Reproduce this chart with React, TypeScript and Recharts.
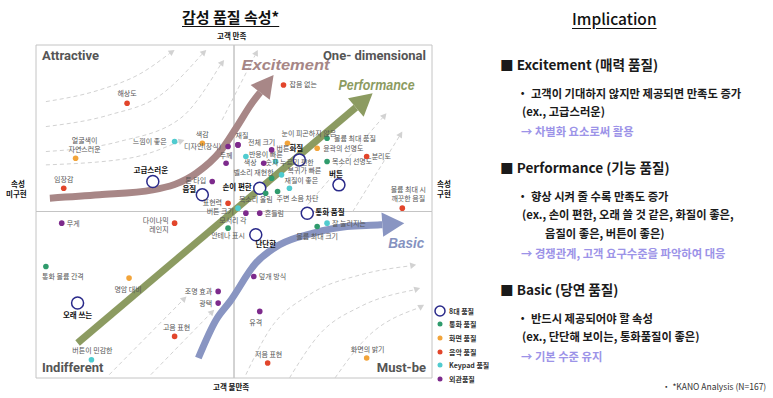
import { ScatterChart, Scatter, XAxis, YAxis, ReferenceArea, Legend, Curve } from "recharts";

// KANO map: x = 속성 구현 정도, y = 고객 만족 정도 (both -1..1)
const keyPoints = [
    { name: "고급스러운", x: -0.41, y: 0.18 },
    { name: "음질", x: -0.16, y: 0.10 },
    { name: "손이 편한", x: 0.13, y: 0.14 },
    { name: "화질", x: 0.33, y: 0.31 },
    { name: "버튼", x: 0.53, y: 0.16 },
    { name: "통화 품질", x: 0.37, y: -0.01 },
    { name: "단단한", x: 0.11, y: -0.14 },
    { name: "오래 쓰는", x: -0.79, y: -0.55 },
];
const callPoints = [
    { name: "볼륨 최대 품질", x: 0.47, y: 0.44 },
    { name: "목소리 선명도", x: 0.47, y: 0.30 },
    { name: "벨소리 재현한", x: 0.19, y: 0.20 },
    { name: "목소리 울림", x: 0.16, y: 0.11 },
    { name: "주변 소음 차단", x: 0.22, y: 0.12 },
    { name: "안테나 표시", x: -0.03, y: -0.10 },
    { name: "볼륨 최대 크기", x: 0.42, y: -0.09 },
    { name: "통화 볼륨 간격", x: -0.95, y: -0.33 },
];
const screenPoints = [
    { name: "얼굴색이\n자연스러운", x: -0.80, y: 0.32 },
    { name: "색감", x: -0.16, y: 0.41 },
    { name: "눈이 피곤하지 않은", x: 0.27, y: 0.41 },
    { name: "윤곽의 선명도", x: 0.42, y: 0.38 },
    { name: "명암 대비", x: -0.53, y: -0.40 },
    { name: "화면의 밝기", x: 0.67, y: -0.88 },
];
const musicPoints = [
    { name: "해상도", x: -0.54, y: 0.65 },
    { name: "잡음 없는", x: 0.25, y: 0.76 },
    { name: "임장감", x: -0.86, y: 0.14 },
    { name: "표현력", x: -0.03, y: 0.05 },
    { name: "분리도", x: 0.67, y: 0.33 },
    { name: "볼륨 최대 시\n깨끗한 음질", x: 0.85, y: 0.02 },
    { name: "다이나믹\n레인지", x: -0.30, y: -0.07 },
    { name: "고음 표현", x: -0.30, y: -0.75 },
    { name: "저음 표현", x: 0.17, y: -0.91 },
];
const keypadPoints = [
    { name: "느낌이 좋은", x: -0.30, y: 0.42 },
    { name: "반응이 빠른", x: 0.06, y: 0.33 },
    { name: "숫자 누르기 편한", x: 0.21, y: 0.30 },
    { name: "복귀가 빠른", x: 0.24, y: 0.22 },
    { name: "재질이 좋은", x: 0.28, y: 0.14 },
    { name: "버튼 크기", x: 0.02, y: 0.02 },
    { name: "잘 눌러지는", x: 0.47, y: -0.07 },
    { name: "버튼이 민감한", x: -0.72, y: -0.89 },
];
const lookPoints = [
    { name: "디자인(장식)", x: -0.03, y: 0.39 },
    { name: "재질", x: 0.02, y: 0.40 },
    { name: "전체 크기", x: 0.02, y: 0.40 },
    { name: "두께", x: -0.04, y: 0.29 },
    { name: "톤 타입", x: -0.11, y: 0.18 },
    { name: "버튼", x: 0.19, y: 0.37 },
    { name: "색상", x: 0.15, y: 0.29 },
    { name: "모서리 각", x: 0.06, y: -0.01 },
    { name: "흔들림", x: 0.13, y: -0.01 },
    { name: "무게", x: -0.87, y: -0.07 },
    { name: "조명 효과", x: -0.08, y: -0.48 },
    { name: "광택", x: -0.08, y: -0.55 },
    { name: "덮개 방식", x: 0.10, y: -0.39 },
    { name: "유격", x: 0.13, y: -0.60 },
];

const excitementPath = [
    { x: -0.93, y: 0.08 }, { x: -0.68, y: 0.10 }, { x: -0.41, y: 0.13 }, { x: -0.19, y: 0.23 },
    { x: -0.07, y: 0.36 }, { x: 0.01, y: 0.50 }, { x: 0.09, y: 0.65 }, { x: 0.20, y: 0.82 },
];
const performancePath = [{ x: -0.79, y: -0.79 }, { x: 0.70, y: 0.71 }];
const basicPath = [
    { x: -0.18, y: -0.88 }, { x: -0.09, y: -0.65 }, { x: -0.02, y: -0.54 }, { x: 0.11, y: -0.31 },
    { x: 0.23, y: -0.20 }, { x: 0.40, y: -0.13 }, { x: 0.57, y: -0.09 }, { x: 0.74, y: -0.08 }, { x: 0.86, y: -0.07 },
];
const guidePaths = [
    [{ x: -0.95, y: 0.66 }, { x: -0.68, y: 0.73 }, { x: -0.47, y: 0.83 }, { x: -0.30, y: 0.97 }],
    [{ x: -0.95, y: 0.51 }, { x: -0.63, y: 0.58 }, { x: -0.37, y: 0.70 }, { x: -0.14, y: 0.97 }],
    [{ x: -0.95, y: 0.36 }, { x: -0.58, y: 0.42 }, { x: -0.27, y: 0.56 }, { x: -0.05, y: 0.91 }],
    [{ x: -0.95, y: 0.28 }, { x: -0.53, y: 0.32 }, { x: -0.25, y: 0.43 }],
    [{ x: -0.06, y: 0.55 }, { x: 0.12, y: 0.97 }],
    [{ x: 0.35, y: 0.01 }, { x: 0.77, y: 0.59 }],
    [{ x: 0.60, y: 0.00 }, { x: 0.85, y: 0.48 }],
    [{ x: 0.06, y: -0.98 }, { x: 0.18, y: -0.71 }, { x: 0.38, y: -0.50 }, { x: 0.64, y: -0.38 }, { x: 0.92, y: -0.32 }],
    [{ x: 0.28, y: -1.0 }, { x: 0.43, y: -0.74 }, { x: 0.64, y: -0.57 }, { x: 0.94, y: -0.46 }],
    [{ x: 0.51, y: -1.0 }, { x: 0.66, y: -0.77 }, { x: 0.96, y: -0.56 }],
    [{ x: -0.63, y: -0.98 }, { x: -0.24, y: -0.51 }],
    [{ x: -0.42, y: -0.98 }, { x: -0.10, y: -0.59 }],
];
const trendLabels = [
    { name: "Excitement", x: 0.26, y: 0.88 },
    { name: "Performance", x: 0.72, y: 0.76 },
    { name: "Basic", x: 0.87, y: -0.19 },
];

const legendOrder = ["8대 품질", "통화 품질", "화면 품질", "음악 품질", "Keypad 품질", "외관품질"];

const implications = [
    { head: "Excitement (매력 품질)", body: "고객이 기대하지 않지만 제공되면 만족도 증가", ex: ["(ex., 고급스러운)"], action: "차별화 요소로써 활용" },
    { head: "Performance (기능 품질)", body: "향상 시켜 줄 수록 만족도 증가", ex: ["(ex., 손이 편한, 오래 쓸 것 같은, 화질이 좋은,", "음질이 좋은, 버튼이 좋은)"], action: "경쟁관계, 고객 요구수준을 파악하여 대응" },
    { head: "Basic (당연 품질)", body: "반드시 제공되어야 할 속성", ex: ["(ex., 단단해 보이는, 통화품질이 좋은)"], action: "기본 수준 유지" },
];

const FONT = '"Noto Sans CJK KR", "Noto Sans", sans-serif';
const NARROW = '"Liberation Sans Narrow", Roboto, sans-serif';

const seriesColor: Record<string, string> = {
    "통화 품질": "#2f9b6c",
    "화면 품질": "#f2a43a",
    "음악 품질": "#e2452b",
    "Keypad 품질": "#50cbcf",
    "외관품질": "#7d2a8c",
};

// label offsets from the dot: dx, dy, anchor
const labelPlace: Record<string, [number, number, string]> = {
    "볼륨 최대 품질": [7, 0, "start"], "목소리 선명도": [5, 0, "start"], "벨소리 재현한": [2, -6, "end"],
    "목소리 울림": [7, 6, "end"], "주변 소음 차단": [-1, 7, "start"], "안테나 표시": [0, 7, "middle"],
    "볼륨 최대 크기": [0, 10, "middle"], "통화 볼륨 간격": [17, 10, "middle"],
    "얼굴색이\n자연스러운": [9, -18, "middle"], "색감": [0, -9, "middle"], "눈이 피곤하지 않은": [-6, -10, "start"],
    "윤곽의 선명도": [6, 0, "start"], "명암 대비": [-1, 11, "middle"], "화면의 밝기": [1, -8, "middle"],
    "해상도": [0, -10, "middle"], "잡음 없는": [6, 0, "start"], "임장감": [0, -9, "middle"], "표현력": [-6, -1, "end"],
    "분리도": [5, 0, "start"], "볼륨 최대 시\n깨끗한 음질": [6, -19, "middle"], "다이나믹\n레인지": [-6, -3, "end"],
    "고음 표현": [2, -9, "middle"], "저음 표현": [1, -8, "middle"],
    "느낌이 좋은": [-8, 0, "end"], "반응이 빠른": [3, -2, "start"], "숫자 누르기 편한": [-10, 1, "start"],
    "복귀가 빠른": [6, -4, "start"], "재질이 좋은": [-5, -8, "start"], "버튼 크기": [-4, 3, "end"],
    "잘 눌러지는": [5, 0, "start"], "버튼이 민감한": [1, -9, "middle"],
    "디자인(장식)": [-7, 0, "end"], "재질": [4, -9, "middle"], "전체 크기": [10, -2, "start"], "두께": [0, -8, "middle"],
    "톤 타입": [-6, -1, "end"], "버튼": [5, -1, "start"], "색상": [-7, -1, "end"], "모서리 각": [-13, 7, "middle"],
    "흔들림": [5, 0, "start"], "무게": [5, 0, "start"], "조명 효과": [-6, 0, "end"], "광택": [-6, 0, "end"],
    "덮개 방식": [5, 0, "start"], "유격": [-4, 11, "middle"],
};
const keyPlace: Record<string, [number, number, string]> = {
    "고급스러운": [-2, -11, "middle"], "음질": [-13, -5, "middle"], "손이 편한": [-8, -1, "end"],
    "화질": [-3, -12, "middle"], "버튼": [-3, -10, "middle"], "통화 품질": [8, -1, "start"],
    "단단한": [10, 10, "middle"], "오래 쓰는": [0, 12, "middle"],
};

function PointText(props: any) {
    const { x, y, name, place, size, weight, color } = props;
    const [dx, dy, anchor] = place ?? [5, 0, "start"];
    const lines = String(name).split("\n");
    return (
        <text x={x + dx} y={y + dy} textAnchor={anchor} fontSize={size} fontWeight={weight} fill={color} fontFamily={FONT}>
            {lines.map((l, i) => (
                <tspan key={i} x={x + dx} dy={i === 0 ? "0.35em" : "1.3em"}>{l}</tspan>
            ))}
        </text>
    );
}

const smallDot = (color: string) => (p: any) => (
    <g>
        <circle cx={p.cx} cy={p.cy} r={2.8} fill={color} />
        <PointText x={p.cx} y={p.cy} name={p.payload.name} place={labelPlace[p.payload.name]} size={7} weight={400} color="#555" />
    </g>
);

const keyDot = (p: any) => (
    <g>
        <circle cx={p.cx} cy={p.cy} r={6} fill="#fff" stroke="#2a2a8a" strokeWidth={1.5} />
        <PointText x={p.cx} y={p.cy} name={p.payload.name} place={keyPlace[p.payload.name]} size={7.5} weight={700} color="#111" />
    </g>
);

const blank = () => <g />;

const trendStyle: Record<string, { color: string; size: number; width: number }> = {
    Excitement: { color: "#a68686", size: 15, width: 88 },
    Performance: { color: "#8c9b61", size: 14, width: 76 },
    Basic: { color: "#8592c0", size: 15, width: 36 },
};
const trendText = (p: any) => {
    const s = trendStyle[p.payload.name];
    return (
        <text x={p.cx} y={p.cy} dy="0.35em" textAnchor="middle" fontSize={s.size} fontStyle="italic" fontWeight={700}
            fill={s.color} fontFamily='"Liberation Sans", Arial, sans-serif' textLength={s.width} lengthAdjust="spacingAndGlyphs">
            {p.payload.name}
        </text>
    );
};

// draws the joined points as a smooth curve with an arrow head at the last point
const arrowLine = (color: string, width: number, head: number, dash?: string) => (p: any) => {
    const pts = p.points;
    const n = pts.length;
    const a = pts[n - 2];
    const b = pts[n - 1];
    const ang = Math.atan2(b.y - a.y, b.x - a.x);
    const base = { x: b.x - head * Math.cos(ang), y: b.y - head * Math.sin(ang) };
    const hw = head * 0.55;
    const l = { x: base.x + hw * Math.sin(ang), y: base.y - hw * Math.cos(ang) };
    const r = { x: base.x - hw * Math.sin(ang), y: base.y + hw * Math.cos(ang) };
    return (
        <g>
            <Curve points={[...pts.slice(0, n - 1), base]} type="monotoneX" stroke={color} strokeWidth={width}
                fill="none" strokeDasharray={dash} />
            <polygon points={`${b.x},${b.y} ${l.x},${l.y} ${r.x},${r.y}`} fill={color} />
        </g>
    );
};

function LegendBox(props: any) {
    const items = (props.payload ?? [])
        .filter((e: any) => e.type !== "none")
        .sort((a: any, b: any) => legendOrder.indexOf(a.value) - legendOrder.indexOf(b.value));
    return (
        <div style={{ fontFamily: FONT, fontSize: 7, fontWeight: 700, color: "#333" }}>
            {items.map((e: any) => (
                <div key={e.value} style={{ display: "flex", alignItems: "center", height: 13.6 }}>
                    <svg width={12} height={12} style={{ marginRight: 3 }}>
                        {e.value === "8대 품질"
                            ? <circle cx={6} cy={6} r={5} fill="#fff" stroke="#2a2a8a" strokeWidth={1.5} />
                            : <circle cx={6} cy={6} r={2.5} fill={seriesColor[e.value]} />}
                    </svg>
                    <span>{e.value}</span>
                </div>
            ))}
        </div>
    );
}

function Row(props: any) {
    const { x, y, size, weight, color, children, style } = props;
    return (
        <div style={{
            position: "absolute", left: x, top: y - size * 0.65, fontSize: size, lineHeight: `${size * 1.3}px`,
            fontWeight: weight ?? 500, color: color ?? "#1a1a1a", whiteSpace: "nowrap", fontFamily: FONT, ...style,
        }}>
            {children}
        </div>
    );
}

function Implications() {
    const heads = [65, 168, 290];
    const rows: any[] = [];
    implications.forEach((b, i) => {
        const top = heads[i];
        rows.push(<Row key={`h${i}`} x={500} y={top} size={13.6} weight={700}>■ {b.head}</Row>);
        rows.push(<Row key={`b${i}`} x={517} y={top + 28} size={11.3} weight={600}>・ {b.body}</Row>);
        b.ex.forEach((e, j) => {
            rows.push(<Row key={`e${i}${j}`} x={j === 0 ? 522 : 545} y={top + 46.5 + j * 19} size={11.3} weight={600}>{e}</Row>);
        });
        rows.push(<Row key={`a${i}`} x={521} y={top + 46.5 + b.ex.length * 19 + 0.5} size={11.3} weight={600} color="#9c93e8">→ {b.action}</Row>);
    });
    return <>{rows}</>;
}

export default function App() {
    return (
        <div style={{ position: "absolute", left: 0, top: 0, width: 773, height: 398, background: "#fff", fontFamily: FONT }}>
            <Row x={182} y={17} size={15} weight={700} color="#111" style={{ textDecoration: "underline", textUnderlineOffset: 3 }}>감성 품질 속성*</Row>
            <Row x={217} y={36} size={7.5} weight={700} color="#111">고객 만족</Row>
            <Row x={213} y={387} size={7.5} weight={700} color="#111">고객 불만족</Row>
            <Row x={11} y={184} size={7.5} weight={700} color="#111">속성</Row>
            <Row x={6} y={194} size={7.5} weight={700} color="#111">미구현</Row>
            <Row x={437} y={184} size={7.5} weight={700} color="#111">속성</Row>
            <Row x={437} y={194} size={7.5} weight={700} color="#111">구현</Row>

            <ScatterChart width={773} height={398} margin={{ top: 45, right: 341, bottom: 20, left: 36 }}>
                <XAxis type="number" dataKey="x" domain={[-1, 1]} hide allowDataOverflow />
                <YAxis type="number" dataKey="y" domain={[-1, 1]} hide allowDataOverflow />
                <ReferenceArea x1={-1} x2={0} y1={0} y2={1} fill="none" stroke="#c4c4c4"
                    label={{ value: "Attractive", position: "insideTopLeft", offset: 6, fill: "#555", fontSize: 13, fontWeight: 700, fontFamily: NARROW }} />
                <ReferenceArea x1={0} x2={1} y1={0} y2={1} fill="none" stroke="#c4c4c4"
                    label={{ value: "One- dimensional", position: "insideTopRight", offset: 6, fill: "#555", fontSize: 13, fontWeight: 700, fontFamily: NARROW }} />
                <ReferenceArea x1={-1} x2={0} y1={-1} y2={0} fill="none" stroke="#c4c4c4"
                    label={{ value: "Indifferent", position: "insideBottomLeft", offset: 6, fill: "#555", fontSize: 13, fontWeight: 700, fontFamily: NARROW }} />
                <ReferenceArea x1={0} x2={1} y1={-1} y2={0} fill="none" stroke="#c4c4c4"
                    label={{ value: "Must-be", position: "insideBottomRight", offset: 6, fill: "#555", fontSize: 13, fontWeight: 700, fontFamily: NARROW }} />

                {guidePaths.map((g, i) => (
                    <Scatter key={`g${i}`} data={g} shape={blank} legendType="none" isAnimationActive={false}
                        line={arrowLine("#d2d2d2", 1, 6, "4 3")} />
                ))}
                <Scatter data={excitementPath} shape={blank} legendType="none" isAnimationActive={false} line={arrowLine("#a88787", 7, 22)} />
                <Scatter data={performancePath} shape={blank} legendType="none" isAnimationActive={false} line={arrowLine("#8c9b61", 7, 22)} />
                <Scatter data={basicPath} shape={blank} legendType="none" isAnimationActive={false} line={arrowLine("#8995c2", 7, 22)} />

                <Scatter name="8대 품질" data={keyPoints} fill="#fff" shape={keyDot} isAnimationActive={false} />
                <Scatter name="통화 품질" data={callPoints} fill={seriesColor["통화 품질"]} shape={smallDot(seriesColor["통화 품질"])} isAnimationActive={false} />
                <Scatter name="화면 품질" data={screenPoints} fill={seriesColor["화면 품질"]} shape={smallDot(seriesColor["화면 품질"])} isAnimationActive={false} />
                <Scatter name="음악 품질" data={musicPoints} fill={seriesColor["음악 품질"]} shape={smallDot(seriesColor["음악 품질"])} isAnimationActive={false} />
                <Scatter name="Keypad 품질" data={keypadPoints} fill={seriesColor["Keypad 품질"]} shape={smallDot(seriesColor["Keypad 품질"])} isAnimationActive={false} />
                <Scatter name="외관품질" data={lookPoints} fill={seriesColor["외관품질"]} shape={smallDot(seriesColor["외관품질"])} isAnimationActive={false} />
                <Scatter data={trendLabels} shape={trendText} legendType="none" isAnimationActive={false} />

                <Legend layout="vertical" align="center" verticalAlign="middle" content={LegendBox}
                    wrapperStyle={{ left: 434, top: 304, width: 80, height: 84 }} />
            </ScatterChart>

            <Row x={572} y={18} size={15.5} weight={500} color="#111" style={{ textDecoration: "underline", textUnderlineOffset: 3 }}>Implication</Row>
            <Implications />
            <Row x={662} y={387} size={8.5} weight={400} color="#333">・ *KANO Analysis (N=167)</Row>
        </div>
    );
}
